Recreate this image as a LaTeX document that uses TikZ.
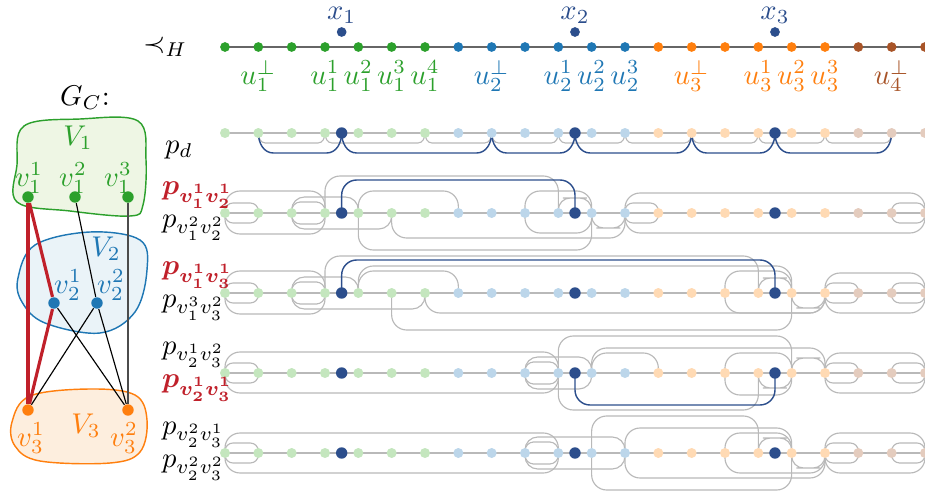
\documentclass[tikz,border=0pt]{standalone}
\usepackage{bm}
\usetikzlibrary{calc}
\definecolor{cg}{RGB}{44,160,44}
\definecolor{cb}{RGB}{31,119,180}
\definecolor{co}{RGB}{255,127,14}
\definecolor{cbr}{RGB}{168,84,40}
\definecolor{lg}{RGB}{196,230,190}
\definecolor{lb}{RGB}{188,214,234}
\definecolor{lo}{RGB}{255,218,180}
\definecolor{lbr}{RGB}{228,204,190}
\definecolor{dx}{RGB}{44,78,140}
\definecolor{cred}{RGB}{192,32,42}
\definecolor{fg}{RGB}{238,246,228}
\definecolor{fb}{RGB}{234,243,248}
\definecolor{fo}{RGB}{253,238,222}
\definecolor{lgray}{RGB}{185,185,185}
\tikzset{
 tdot/.style={circle,inner sep=0pt,minimum size=3.4pt,draw=none},
 rdot/.style={circle,inner sep=0pt,minimum size=3.5pt,draw=none},
 xdot/.style={circle,inner sep=0pt,minimum size=4pt,fill=dx,draw=none},
 rowline/.style={draw=lgray,line width=0.45pt},
 topline/.style={draw=black!60,line width=0.5pt},
 lp/.style={draw=lgray,line width=0.4pt},
 bl/.style={draw=dx,line width=0.5pt},
 gv/.style={circle,inner sep=0pt,minimum size=4pt,draw=none},
 redge/.style={draw=cred,line width=1.1pt},
 kedge/.style={draw=black,line width=0.4pt},
 lab/.style={inner sep=0pt}
}
% top arc / bottom arc between nodes #2#3 and #2#4 of height #5 (px)
\newcommand\ta[5][lp]{\pgfmathsetmacro\rr{0.35*min(0.8*#5,15)}%
  \draw[#1,rounded corners=\rr pt] (#2#3) |- ($(#2#3)!0.5!(#2#4)+(0,-#5)$) -| (#2#4);}
\newcommand\ba[5][lp]{\pgfmathsetmacro\rr{0.35*min(0.8*#5,15)}%
  \draw[#1,rounded corners=\rr pt] (#2#3) |- ($(#2#3)!0.5!(#2#4)+(0,#5)$) -| (#2#4);}
% bracket below: from #1 to #2, depth #3, horizontal reach #4, style #5
\newcommand\brk[5]{\draw[#5] (#1) to[out=-90,in=180] ($(#1)+(#4,#3)$) -- ($(#2)+(-#4,#3)$) to[out=0,in=-90] (#2);}
\begin{document}
\begin{tikzpicture}[x=0.35pt,y=-0.35pt]
\useasboundingbox (0,0) rectangle (925,492);
% ---------- top ordering
\coordinate (tl) at (225,47); \coordinate (tr) at (925,47);
\draw[topline] (tl) -- (tr);
\node at (165,47) {$\prec_H$};
\foreach \k in {0,...,6}{\node[tdot,fill=cg] (t\k) at ({225+33.333*\k},47) {};}
\foreach \k in {7,...,12}{\node[tdot,fill=cb] (t\k) at ({225+33.333*\k},47) {};}
\foreach \k in {13,...,18}{\node[tdot,fill=co] (t\k) at ({225+33.333*\k},47) {};}
\foreach \k in {19,...,21}{\node[tdot,fill=cbr] (t\k) at ({225+33.333*\k},47) {};}
\node[tdot,fill=dx] (tx1) at (341.67,32) {};
\node[tdot,fill=dx] (tx2) at (575,32) {};
\node[tdot,fill=dx] (tx3) at (775,32) {};
\node[lab,text=dx] at (341.67,15) {$x_1$};
\node[lab,text=dx] at (575,15) {$x_2$};
\node[lab,text=dx] at (775,15) {$x_3$};
\node[lab,text=cg] at (258.3,76) {$u_1^{\perp}$};
\node[lab,text=cg] at (325,76) {$u_1^{1}$};
\node[lab,text=cg] at (358.3,76) {$u_1^{2}$};
\node[lab,text=cg] at (391.7,76) {$u_1^{3}$};
\node[lab,text=cg] at (425,76) {$u_1^{4}$};
\node[lab,text=cb] at (491.7,76) {$u_2^{\perp}$};
\node[lab,text=cb] at (558.3,76) {$u_2^{1}$};
\node[lab,text=cb] at (591.7,76) {$u_2^{2}$};
\node[lab,text=cb] at (625,76) {$u_2^{3}$};
\node[lab,text=co] at (691.7,76) {$u_3^{\perp}$};
\node[lab,text=co] at (758.3,76) {$u_3^{1}$};
\node[lab,text=co] at (791.7,76) {$u_3^{2}$};
\node[lab,text=co] at (825,76) {$u_3^{3}$};
\node[lab,text=cbr] at (891.7,76) {$u_4^{\perp}$};
% ---------- rows
\foreach \r/\yy in {d/133,a/213,b/293,c/373,e/453}{
  \coordinate (\r l) at (225,\yy); \coordinate (\r r) at (925,\yy);
  \draw[rowline] (\r l) -- (\r r);
  \foreach \k in {0,...,21}{\coordinate (\r\k) at ({225+33.333*\k},\yy);}
  \coordinate (\r x1) at (341.67,\yy);
  \coordinate (\r x2) at (575,\yy);
  \coordinate (\r x3) at (775,\yy);
}
% p_d brackets
\node[anchor=west] at (155,150) {$p_d$};
\brk{d1}{d3}{10}{7}{lp}\brk{d3}{d6}{10}{7}{lp}\brk{d6}{d8}{10}{7}{lp}\brk{d8}{d10}{10}{7}{lp}
\brk{d10}{d12}{10}{7}{lp}\brk{d12}{d14}{10}{7}{lp}\brk{d14}{d16}{10}{7}{lp}\brk{d16}{d18}{10}{7}{lp}\brk{d18}{d20}{10}{7}{lp}
\brk{d1}{dx1}{20}{15}{bl}\brk{dx1}{d8}{20}{15}{bl}\brk{d8}{dx2}{20}{15}{bl}\brk{dx2}{d14}{20}{15}{bl}\brk{d14}{dx3}{20}{15}{bl}\brk{dx3}{d20}{20}{15}{bl}
% row a
\ta{a}{0}{1}{10}\ta{a}{0}{3}{22}\ta{a}{2}{3}{11}\ta{a}{2}{4}{16}\ta{a}{3}{10}{37}\ta{a}{4}{7}{22}\ta{a}{9}{11}{22}\ta{a}{10}{11}{15}
\ta{a}{12}{13}{10}\ta{a}{12}{21}{20}\ta{a}{20}{21}{10}
\ba{a}{0}{1}{10}\ba{a}{0}{3}{21}\ba{a}{2}{3}{11}\ba{a}{2}{5}{16}\ba{a}{4}{11}{37}\ba{a}{5}{12}{25}\ba{a}{9}{11}{20}\ba{a}{11}{12}{15}
\ba{a}{12}{13}{10}\ba{a}{12}{21}{20}\ba{a}{20}{21}{10}
\ta[bl]{a}{x1}{x2}{33}
% row b
\ta{b}{0}{1}{10}\ta{b}{0}{3}{22}\ta{b}{2}{3}{11}\ta{b}{2}{4}{16}\ta{b}{3}{16}{37}\ta{b}{4}{17}{27}\ta{b}{4}{7}{22}\ta{b}{15}{17}{22}\ta{b}{16}{17}{15}
\ta{b}{18}{19}{10}\ta{b}{18}{21}{20}\ta{b}{20}{21}{10}
\ba{b}{0}{1}{10}\ba{b}{0}{3}{21}\ba{b}{2}{3}{11}\ba{b}{2}{6}{16}\ba{b}{5}{17}{37}\ba{b}{6}{18}{20}\ba{b}{15}{18}{20}\ba{b}{17}{18}{15}
\ba{b}{18}{19}{10}\ba{b}{18}{21}{20}\ba{b}{20}{21}{10}
\ta[bl]{b}{x1}{x3}{33}
% row c
\ta{c}{0}{1}{10}\ta{c}{0}{10}{21}\ta{c}{9}{10}{11}\ta{c}{9}{11}{16}\ta{c}{10}{17}{37}\ta{c}{11}{18}{25}\ta{c}{11}{13}{20}\ta{c}{15}{17}{20}\ta{c}{17}{18}{15}
\ta{c}{18}{19}{10}\ta{c}{18}{21}{20}\ta{c}{20}{21}{10}
\ba{c}{0}{1}{10}\ba{c}{0}{10}{20}\ba{c}{9}{10}{11}\ba{c}{9}{11}{16}\ba{c}{10}{16}{37}\ba{c}{15}{17}{22}\ba{c}{16}{17}{15}
\ba{c}{18}{19}{10}\ba{c}{18}{21}{20}\ba{c}{20}{21}{10}
\ba[bl]{c}{x2}{x3}{32}
% row e
\ta{e}{0}{1}{10}\ta{e}{0}{10}{20}\ta{e}{9}{10}{11}\ta{e}{9}{12}{16}\ta{e}{11}{16}{37}\ta{e}{12}{17}{25}\ta{e}{15}{17}{20}\ta{e}{16}{17}{15}
\ta{e}{18}{19}{10}\ta{e}{18}{21}{20}\ta{e}{20}{21}{10}
\ba{e}{0}{1}{10}\ba{e}{0}{10}{20}\ba{e}{9}{10}{11}\ba{e}{9}{12}{16}\ba{e}{11}{17}{37}\ba{e}{12}{18}{25}\ba{e}{15}{18}{20}\ba{e}{17}{18}{15}
\ba{e}{18}{19}{10}\ba{e}{18}{21}{20}\ba{e}{20}{21}{10}
% dots on rows
\foreach \r in {d,a,b,c,e}{
  \foreach \k in {0,...,6}{\node[rdot,fill=lg] (\r n\k) at (\r\k) {};}
  \foreach \k in {7,...,12}{\node[rdot,fill=lb] (\r n\k) at (\r\k) {};}
  \foreach \k in {13,...,18}{\node[rdot,fill=lo] (\r n\k) at (\r\k) {};}
  \foreach \k in {19,...,21}{\node[rdot,fill=lbr] (\r n\k) at (\r\k) {};}
  \node[xdot] (\r X1) at (\r x1) {};
  \node[xdot] (\r X2) at (\r x2) {};
  \node[xdot] (\r X3) at (\r x3) {};
}
% row labels
\node[anchor=west,text=cred] at (152,195) {$\bm{p_{v_1^1v_2^1}}$};
\node[anchor=west] at (152,228) {$p_{v_1^2v_2^2}$};
\node[anchor=west,text=cred] at (152,275) {$\bm{p_{v_1^1v_3^1}}$};
\node[anchor=west] at (152,308) {$p_{v_1^3v_3^2}$};
\node[anchor=west] at (152,355) {$p_{v_2^1v_3^2}$};
\node[anchor=west,text=cred] at (152,388) {$\bm{p_{v_2^1v_3^1}}$};
\node[anchor=west] at (152,435) {$p_{v_2^2v_3^1}$};
\node[anchor=west] at (152,468) {$p_{v_2^2v_3^2}$};
% ---------- G_C
\node at (85,98) {$G_C$:};
\draw[cg,fill=fg,line width=0.5pt] plot[smooth cycle,tension=0.6] coordinates {(17,165) (24,126) (80,119) (138,121) (146,160) (143,205) (130,216) (70,211) (17,202)};
\draw[cb,fill=fb,line width=0.5pt] plot[smooth cycle,tension=0.6] coordinates {(18,278) (35,245) (90,232) (140,240) (147,270) (135,312) (100,333) (45,323) (22,302)};
\draw[co,fill=fo,line width=0.5pt] plot[smooth cycle,tension=0.6] coordinates {(12,422) (30,396) (90,389) (135,395) (147,420) (140,452) (110,463) (40,461) (15,446)};
\node[text=cg] at (78,138) {$V_1$};
\node[text=cb] at (106,249) {$V_2$};
\node[text=co] at (86,426) {$V_3$};
\node[gv,fill=cg] (v11) at (28,197) {};
\node[gv,fill=cg] (v12) at (75,197) {};
\node[gv,fill=cg] (v13) at (128,197) {};
\node[gv,fill=cb] (v21) at (54,303) {};
\node[gv,fill=cb] (v22) at (97,303) {};
\node[gv,fill=co] (v31) at (28,410) {};
\node[gv,fill=co] (v32) at (128,410) {};
\node[text=cg] at (29,178) {$v_1^1$};
\node[text=cg] at (73,178) {$v_1^2$};
\node[text=cg] at (118,178) {$v_1^3$};
\node[text=cb] at (68,285) {$v_2^1$};
\node[text=cb] at (111,285) {$v_2^2$};
\node[text=co] at (31,438) {$v_3^1$};
\node[text=co] at (124,438) {$v_3^2$};
\draw[kedge] (v12) -- (v22);
\draw[kedge,draw=black!70,line width=0.6pt] (v13) -- (v32);
\draw[kedge] (v21) -- (v32);
\draw[kedge] (v22) -- (v31);
\draw[kedge] (v22) -- (v32);
\draw[redge] (v11) -- (v31);
\draw[redge] (v11) -- (v21);
\draw[redge] (v21) -- (v31);
\end{tikzpicture}
\end{document}
